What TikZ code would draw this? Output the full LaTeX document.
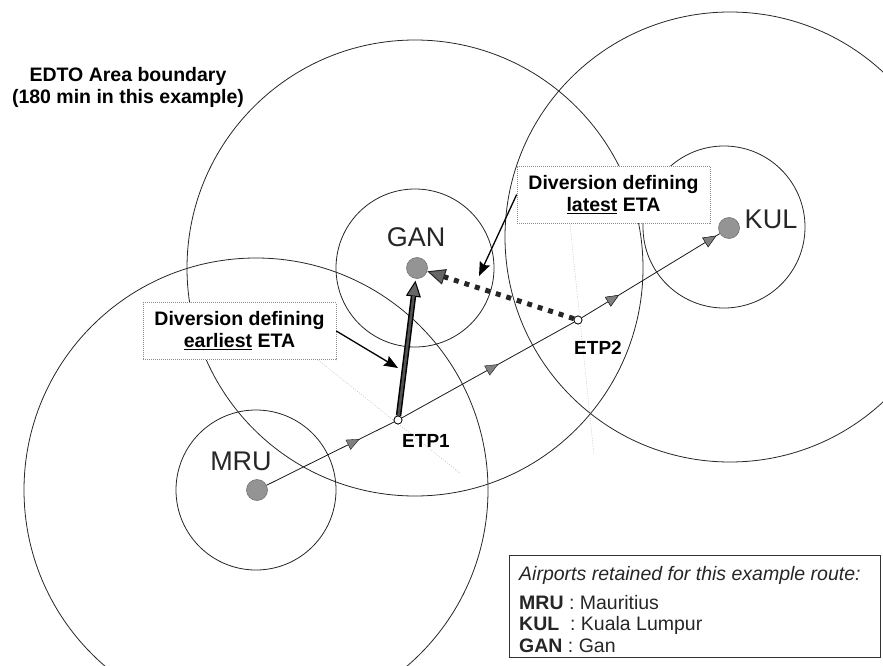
\documentclass[tikz,border=0pt]{standalone}
\usepackage{fontspec}
\setmainfont{Liberation Sans}
\usetikzlibrary{arrows.meta,decorations.markings}
\begin{document}
\begin{tikzpicture}[x=1pt,y=-1pt,
  ring/.style={draw=black!85, line width=0.8pt},
  dot/.style={circle, minimum size=21pt, inner sep=0pt, fill=black!42, draw=black!55, line width=0.6pt},
  etpnode/.style={circle, minimum size=8pt, inner sep=0pt, draw=black, fill=white, line width=0.7pt},
  route/.style={draw=black!90, line width=0.8pt},
  faint/.style={draw=black!25, line width=0.5pt, dash pattern=on 1pt off 1.5pt},
  callout/.style={draw=black!45, dash pattern=on 1pt off 1pt, line width=0.6pt, fill=white,
    minimum width=193pt, minimum height=57pt, inner sep=0pt, align=center,
    font=\bfseries\fontsize{19.5}{22}\selectfont},
  airport/.style={font=\fontsize{27}{30}\selectfont, inner sep=0pt, text=black!85},
  etplabel/.style={font=\bfseries\fontsize{19}{22}\selectfont, inner sep=0pt},
  legendtext/.style={font=\fontsize{19.5}{22}\selectfont, inner sep=0pt, text=black!85},
  pointer/.style={draw=black, line width=1.3pt, -{Stealth[length=14pt,width=11pt,inset=2pt]}},
  routemark/.style={postaction={decorate}, decoration={markings, mark=at position #1 with {\arrow{Triangle[length=13pt,width=11pt,fill=black!50,line width=0.4pt]}}}}
]
\useasboundingbox (0,0) rectangle (883,666);
% circle centres
\coordinate (mruc) at (256,490);
\coordinate (ganc) at (415,268);
\coordinate (kulc) at (724,227);
\coordinate (kulbig) at (730,237);
% EDTO area circles and small circles
\draw[ring] (mruc) circle[radius=232pt];
\draw[ring] (ganc) circle[radius=228pt];
\draw[ring] (kulbig) circle[radius=225pt];
\draw[ring] (mruc) circle[radius=80pt];
\draw[ring] (ganc) circle[radius=79pt];
\draw[ring] (kulc) circle[radius=81pt];
% faint construction lines
\coordinate (f1a) at (318,360);
\coordinate (f1b) at (460,473);
\coordinate (f2a) at (570,224);
\coordinate (f2b) at (594,455);
\draw[faint] (f1a) -- (f1b);
\draw[faint] (f2a) -- (f2b);
% airports and ETPs
\node[dot] (mru) at (257,490) {};
\node[dot] (gan) at (417,268) {};
\node[dot] (kul) at (729,228) {};
\node[etpnode] (etp1) at (398,420) {};
\node[etpnode] (etp2) at (578,320) {};
% route
\draw[route, routemark=0.73] (mru) -- (etp1);
\draw[route, routemark=0.56] (etp1) -- (etp2);
\draw[route, routemark=0.27, postaction={decorate}, decoration={markings, mark=at position 0.975 with {\arrow{Triangle[length=13pt,width=11pt,fill=black!50,line width=0.4pt]}}}] (etp2) -- (kul);
% diversion ETP1 -> GAN (earliest)
\draw[line width=5.5pt, black, shorten >=2pt, -{Triangle[length=16pt,width=15pt,line width=1pt,fill=black!60]}] (etp1) -- (gan);
\draw[line width=2.6pt, black!68, shorten >=17.5pt] (etp1) -- (gan);
% diversion ETP2 -> GAN (latest)
\draw[line width=5pt, black!85, dash pattern=on 5pt off 6pt, -{Triangle[length=18pt,width=16pt,line width=1pt,fill=black!60]}] (etp2) -- (gan);
\node[etpnode] at (etp1) {};
\node[etpnode] at (etp2) {};
% callouts
\node[callout] (earliest) at (239.5,331) {Diversion defining\\\underline{earliest} ETA};
\node[callout] (latest) at (613.5,194.5) {Diversion defining\\\underline{latest} ETA};
\coordinate (etip) at (398,368);
\coordinate (ltip) at (479,276);
\draw[pointer] (earliest.east) -- (etip);
\draw[pointer] (latest.west) -- (ltip);
% labels
\node[airport] (ganlabel) at (416,237) {GAN};
\node[airport] (mrulabel) at (241,461) {MRU};
\node[airport] (kullabel) at (771,219) {KUL};
\node[etplabel] (etp1label) at (426,441) {ETP1};
\node[etplabel] (etp2label) at (598,348) {ETP2};
\node[font=\bfseries\fontsize{19.5}{22}\selectfont, align=center, inner sep=0pt] (edto) at (128,87) {EDTO Area boundary\\(180 min in this example)};
% legend
\node[draw=black!80, line width=0.8pt, minimum width=371pt, minimum height=102pt, inner sep=0pt] (legend) at (694.5,606) {};
\node[legendtext, anchor=base west] (l1) at (519,580) {\itshape Airports retained for this example route:};
\node[legendtext, anchor=base west] (l2) at (519,609) {\textbf{MRU} : Mauritius};
\node[legendtext, anchor=base west] (l3) at (519,630) {\textbf{KUL}\ \ : Kuala Lumpur};
\node[legendtext, anchor=base west] (l4) at (519,652) {\textbf{GAN} : Gan};
\end{tikzpicture}
\end{document}
